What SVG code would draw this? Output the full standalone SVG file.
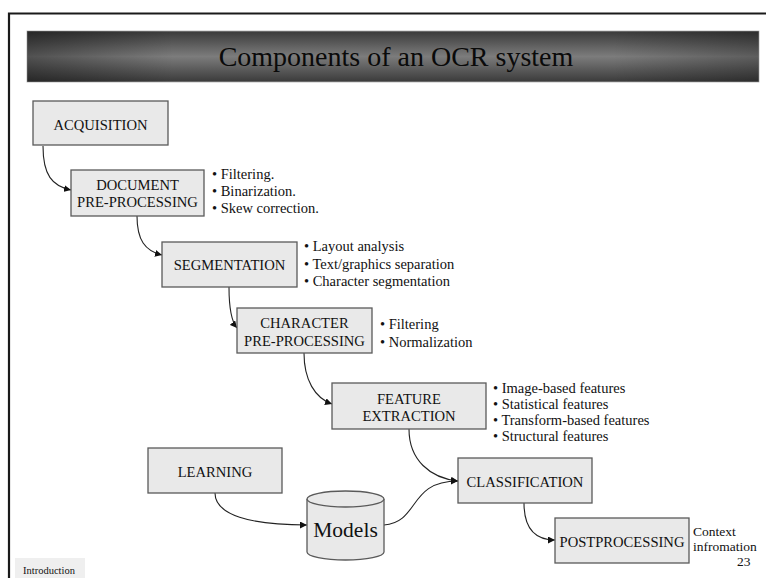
<svg xmlns="http://www.w3.org/2000/svg" width="766" height="578" viewBox="0 0 766 578">
<defs>
  <linearGradient id="titleGrad" x1="0" y1="0" x2="0" y2="1">
    <stop offset="0" stop-color="#3a3a3a"/>
    <stop offset="0.5" stop-color="#7c7c7c"/>
    <stop offset="1" stop-color="#3a3a3a"/>
  </linearGradient>
  <linearGradient id="titleEdge" x1="0" y1="0" x2="1" y2="0">
    <stop offset="0" stop-color="#000" stop-opacity="0.35"/>
    <stop offset="0.2" stop-color="#000" stop-opacity="0"/>
    <stop offset="0.8" stop-color="#000" stop-opacity="0"/>
    <stop offset="1" stop-color="#000" stop-opacity="0.25"/>
  </linearGradient>
  <marker id="arrow" markerWidth="7" markerHeight="7" refX="7" refY="3.5" orient="auto" markerUnits="userSpaceOnUse">
    <path d="M0,0 L7,3.5 L0,7 z" fill="#111"/>
  </marker>
</defs>
<style>
  .box { fill: #e9e9e9; stroke: #5a5a5a; stroke-width: 1.3; }
  .lbl { font-family: "Liberation Serif", "Times New Roman", serif; font-size: 14.6px; fill: #111; text-anchor: middle; }
  .bul { font-family: "Liberation Serif", "Times New Roman", serif; font-size: 14.5px; fill: #111; }
  .ctx { font-family: "Liberation Serif", "Times New Roman", serif; font-size: 13.5px; fill: #111; }
  .conn { fill: none; stroke: #222; stroke-width: 1.1; marker-end: url(#arrow); }
</style>
<rect x="0" y="0" width="766" height="578" fill="#fff"/>
<!-- slide frame -->
<path d="M9,578 L9,13.5 L766,13.5" fill="none" stroke="#1a1a1a" stroke-width="2.2"/>
<!-- title bar -->
<g id="title">
  <rect x="27" y="31" width="732" height="51" fill="url(#titleGrad)" stroke="#b0b0b0" stroke-width="0.8"/>
  <rect x="27" y="31" width="732" height="51" fill="url(#titleEdge)"/>
  <text x="396" y="66" font-family="Liberation Serif, Times New Roman, serif" font-size="28" fill="#0a0a0a" text-anchor="middle">Components of an OCR system</text>
</g>

<g id="connectors">
  <path class="conn" d="M43,146 C43,175 52,186 71,190"/>
  <path class="conn" d="M137,216 C137,240 145,251 162,255"/>
  <path class="conn" d="M229,287 C229,305 231,321 237,328"/>
  <path class="conn" d="M304,353 C304,380 315,398 332,404"/>
  <path class="conn" d="M409,429 C409,460 430,478 458,481"/>
  <path class="conn" d="M384,525 C420,522 408,481 458,481"/>
  <path class="conn" d="M215,493 C215,515 250,525 307,525"/>
  <path class="conn" d="M524,503 C524,528 535,540 555,540"/>
</g>

<g id="acquisition">
  <rect class="box" x="33" y="101" width="135" height="44"/>
  <text class="lbl" x="100.5" y="130">ACQUISITION</text>
</g>
<g id="document-preprocessing">
  <rect class="box" x="71" y="170" width="133" height="46"/>
  <text class="lbl" x="137.5" y="190">DOCUMENT</text>
  <text class="lbl" x="137.5" y="207">PRE-PROCESSING</text>
  <text class="bul" x="212" y="179">• Filtering.</text>
  <text class="bul" x="212" y="196">• Binarization.</text>
  <text class="bul" x="212" y="213">• Skew correction.</text>
</g>
<g id="segmentation">
  <rect class="box" x="162" y="242" width="135" height="45"/>
  <text class="lbl" x="229.5" y="270">SEGMENTATION</text>
  <text class="bul" x="304" y="251">• Layout analysis</text>
  <text class="bul" x="304" y="268.5">• Text/graphics separation</text>
  <text class="bul" x="304" y="286">• Character segmentation</text>
</g>
<g id="character-preprocessing">
  <rect class="box" x="237" y="308" width="135" height="45"/>
  <text class="lbl" x="304.5" y="328">CHARACTER</text>
  <text class="lbl" x="304.5" y="345.5">PRE-PROCESSING</text>
  <text class="bul" x="380" y="329">• Filtering</text>
  <text class="bul" x="380" y="347">• Normalization</text>
</g>
<g id="feature-extraction">
  <rect class="box" x="332" y="383" width="154" height="46"/>
  <text class="lbl" x="409" y="404">FEATURE</text>
  <text class="lbl" x="409" y="421">EXTRACTION</text>
  <text class="bul" x="493" y="393">• Image-based features</text>
  <text class="bul" x="493" y="409">• Statistical features</text>
  <text class="bul" x="493" y="425">• Transform-based features</text>
  <text class="bul" x="493" y="441">• Structural features</text>
</g>
<g id="classification">
  <rect class="box" x="458" y="458" width="134" height="45"/>
  <text class="lbl" x="525" y="487">CLASSIFICATION</text>
</g>
<g id="learning">
  <rect class="box" x="148" y="448" width="134" height="45"/>
  <text class="lbl" x="215" y="477">LEARNING</text>
</g>
<g id="models">
  <path d="M307,499 L307,552 A38.5,8 0 0 0 384,552 L384,499" class="box"/>
  <ellipse cx="345.5" cy="499" rx="38.5" ry="8" class="box"/>
  <text x="345.5" y="537" font-family="Liberation Serif, Times New Roman, serif" font-size="21.5" fill="#111" text-anchor="middle">Models</text>
</g>
<g id="postprocessing">
  <rect class="box" x="555" y="518" width="134" height="45"/>
  <text class="lbl" x="622" y="547">POSTPROCESSING</text>
  <text class="ctx" x="693" y="536">Context</text>
  <text class="ctx" x="693" y="551">infromation</text>
</g>
<text class="ctx" x="737" y="566">23</text>
<g id="footer">
  <rect x="15" y="558" width="70" height="20" fill="#efefef"/>
  <text x="23" y="574" font-family="Liberation Serif, Times New Roman, serif" font-size="10.5" fill="#111">Introduction</text>
</g>
</svg>
